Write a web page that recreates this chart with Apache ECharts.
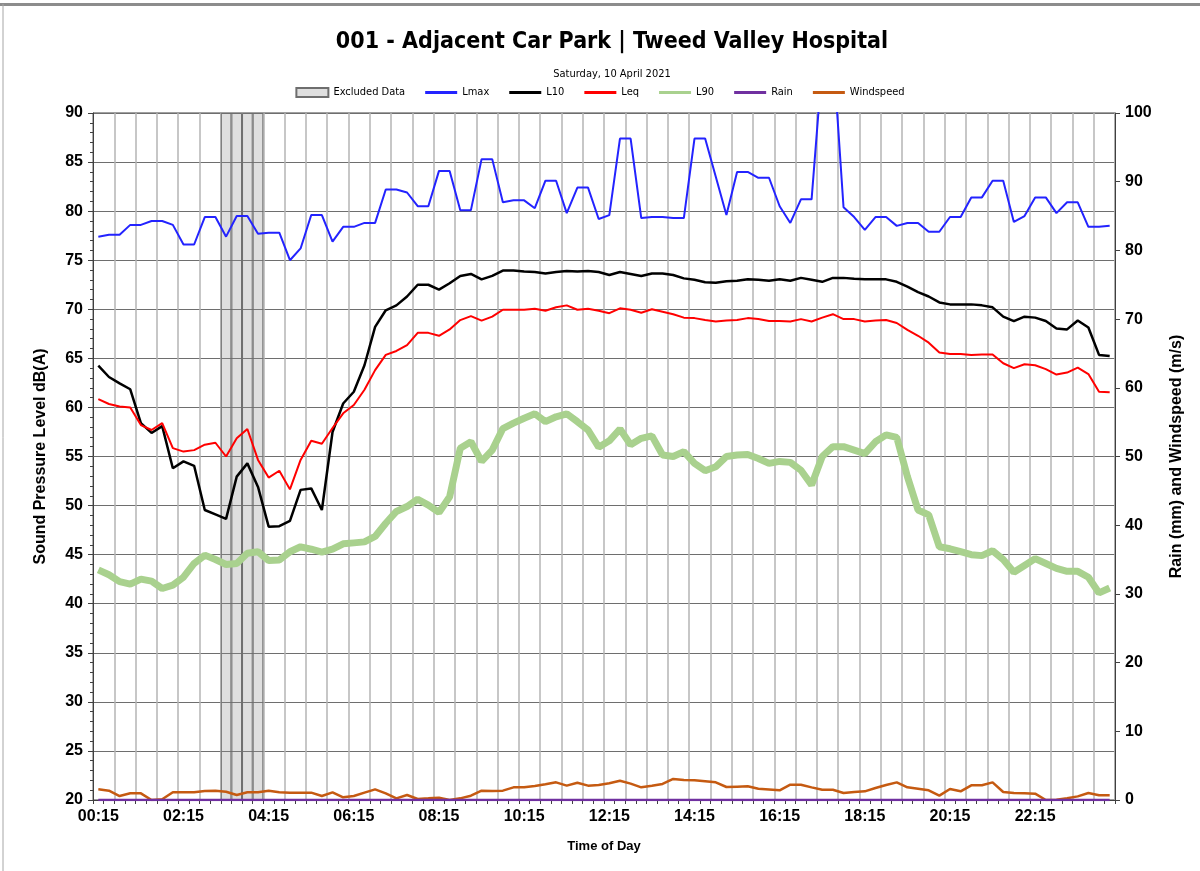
<!DOCTYPE html>
<html>
<head>
<meta charset="utf-8">
<script src="https://cdn.jsdelivr.net/npm/echarts@6/dist/echarts.min.js"></script>
<style>
html,body{margin:0;padding:0;background:#fff;}
#chart{width:1200px;height:871px;}
</style>
</head>
<body>
<div id="chart"></div>
<script>
const timeLabels = ["00:15","00:30","00:45","01:00","01:15","01:30","01:45","02:00","02:15","02:30","02:45","03:00","03:15","03:30","03:45","04:00","04:15","04:30","04:45","05:00","05:15","05:30","05:45","06:00","06:15","06:30","06:45","07:00","07:15","07:30","07:45","08:00","08:15","08:30","08:45","09:00","09:15","09:30","09:45","10:00","10:15","10:30","10:45","11:00","11:15","11:30","11:45","12:00","12:15","12:30","12:45","13:00","13:15","13:30","13:45","14:00","14:15","14:30","14:45","15:00","15:15","15:30","15:45","16:00","16:15","16:30","16:45","17:00","17:15","17:30","17:45","18:00","18:15","18:30","18:45","19:00","19:15","19:30","19:45","20:00","20:15","20:30","20:45","21:00","21:15","21:30","21:45","22:00","22:15","22:30","22:45","23:00","23:15","23:30","23:45","00:00"];

const excluded = [null,null,null,null,null,null,null,null,null,null,null,null,90,90,90,90,null,null,null,null,null,null,null,null,null,null,null,null,null,null,null,null,null,null,null,null,null,null,null,null,null,null,null,null,null,null,null,null,null,null,null,null,null,null,null,null,null,null,null,null,null,null,null,null,null,null,null,null,null,null,null,null,null,null,null,null,null,null,null,null,null,null,null,null,null,null,null,null,null,null,null,null,null,null,null,null];

const lmax = [77.4,77.6,77.6,78.6,78.6,79.0,79.0,78.6,76.6,76.6,
79.4,79.4,77.4,79.5,79.5,77.7,77.8,77.8,75.0,76.2,
79.6,79.6,76.9,78.4,78.4,78.8,78.8,82.2,82.2,81.9,
80.5,80.5,84.1,84.1,80.1,80.1,85.3,85.3,80.9,81.1,
81.1,80.3,83.1,83.1,79.8,82.4,82.4,79.2,79.6,87.4,
87.4,79.3,79.4,79.4,79.3,79.3,87.4,87.4,83.5,79.6,
84.0,84.0,83.4,83.4,80.5,78.8,81.2,81.2,95.0,96.5,
80.4,79.4,78.1,79.4,79.4,78.5,78.8,78.8,77.9,77.9,
79.4,79.4,81.4,81.4,83.1,83.1,78.9,79.5,81.4,81.4,
79.8,80.9,80.9,78.4,78.4,78.5];

const l10 = [64.25,63.1,62.45,61.85,58.4,57.4,58.1,53.8,54.5,54.05,
49.55,49.1,48.65,52.95,54.3,51.9,47.85,47.9,48.45,51.6,
51.75,49.55,57.5,60.4,61.6,64.3,68.2,69.9,70.4,71.3,
72.5,72.5,72.0,72.65,73.4,73.6,73.05,73.4,73.95,73.95,
73.85,73.8,73.65,73.8,73.9,73.85,73.9,73.8,73.5,73.8,
73.6,73.4,73.65,73.65,73.5,73.15,73.0,72.75,72.7,72.85,
72.9,73.05,73.0,72.9,73.05,72.9,73.2,73.0,72.8,73.2,
73.2,73.1,73.05,73.05,73.05,72.8,72.3,71.75,71.3,70.7,
70.5,70.5,70.5,70.4,70.2,69.25,68.8,69.25,69.15,68.8,
68.05,67.95,68.85,68.15,65.35,65.25];

const leq = [60.85,60.35,60.1,60.0,58.2,57.7,58.4,55.85,55.5,55.65,
56.2,56.4,55.0,56.85,57.8,54.65,52.85,53.55,51.65,54.65,
56.6,56.3,57.9,59.4,60.25,61.8,63.8,65.35,65.75,66.35,
67.6,67.6,67.3,67.95,68.9,69.3,68.85,69.25,69.95,69.95,
69.95,70.05,69.85,70.2,70.4,69.95,70.05,69.85,69.6,70.1,
69.95,69.65,70.0,69.75,69.5,69.15,69.1,68.9,68.75,68.85,
68.9,69.1,69.0,68.8,68.8,68.75,69.0,68.75,69.15,69.5,
69.0,69.0,68.75,68.85,68.9,68.6,67.9,67.3,66.6,65.6,
65.45,65.45,65.35,65.4,65.4,64.5,64.0,64.4,64.3,63.9,
63.35,63.55,64.05,63.4,61.6,61.55];

const l90 = [43.45,42.95,42.25,42.0,42.5,42.3,41.55,41.9,42.7,44.1,
44.95,44.5,44.0,44.1,45.15,45.3,44.4,44.45,45.3,45.8,
45.55,45.25,45.55,46.1,46.2,46.3,46.85,48.2,49.4,49.9,
50.65,50.05,49.3,50.9,55.85,56.5,54.5,55.65,57.85,58.4,
58.9,59.35,58.55,59.05,59.35,58.55,57.7,55.95,56.6,57.8,
56.2,56.85,57.1,55.15,55.0,55.5,54.3,53.55,53.95,55.0,
55.15,55.2,54.8,54.3,54.5,54.4,53.6,52.1,55.0,56.0,
56.0,55.65,55.3,56.5,57.2,56.95,52.95,49.55,49.05,45.8,
45.6,45.3,45.0,44.9,45.4,44.5,43.2,43.9,44.6,44.1,
43.6,43.3,43.3,42.7,41.1,41.6];

const rain = [0,0,0,0,0,0,0,0,0,0,0,0,0,0,0,0,0,0,0,0,0,0,0,0,0,0,0,0,0,0,0,0,0,0,0,0,0,0,0,0,0,0,0,0,0,0,0,0,0,0,0,0,0,0,0,0,0,0,0,0,0,0,0,0,0,0,0,0,0,0,0,0,0,0,0,0,0,0,0,0,0,0,0,0,0,0,0,0,0,0,0,0,0,0,0,0];

const windspeed = [1.55,1.36,0.58,0.97,0.97,0,0.1,1.12,1.12,1.12,
1.31,1.36,1.21,0.73,1.12,1.12,1.36,1.12,1.07,1.07,
1.07,0.58,1.12,0.39,0.58,1.07,1.55,0.97,0.24,0.73,
0.15,0.24,0.34,0,0.24,0.63,1.36,1.31,1.36,1.84,
1.84,2.04,2.28,2.57,2.09,2.52,2.09,2.18,2.43,2.8,
2.38,1.84,2.06,2.33,3.06,2.91,2.86,2.72,2.57,1.89,
1.94,1.99,1.65,1.53,1.41,2.23,2.23,1.84,1.5,1.5,
1.02,1.17,1.26,1.75,2.18,2.57,1.84,1.63,1.41,0.63,
1.6,1.26,2.14,2.14,2.57,1.17,1.02,0.97,0.92,0,
0.05,0.27,0.53,1.02,0.68,0.68];

const leftTicks = {min: 20, max: 90, step: 5};
const rightTicks = {min: 0, max: 100, step: 10};

const NARROW = "'Liberation Sans Narrow','DejaVu Sans Condensed','Liberation Sans',sans-serif";
const SANS = "'Liberation Sans','Arial',sans-serif";
const LINE_ICON = 'path://M0,0 H32 V3 H0 Z';

const chart = echarts.init(document.getElementById('chart'), null, {renderer: 'canvas'});

const lineSeries = (name, data, color, width, yAxisIndex, z) => ({
  name, type: 'line', data, yAxisIndex, symbol: 'none', showSymbol: false,
  lineStyle: {color, width}, itemStyle: {color}, z, animation: false
});

chart.setOption({
  animation: false,
  backgroundColor: '#ffffff',
  graphic: [
    {type: 'line', shape: {x1: 0, y1: 4.5, x2: 1200, y2: 4.5}, style: {stroke: '#8c8c8c', lineWidth: 3}, silent: true},
    {type: 'line', shape: {x1: 3, y1: 4, x2: 3, y2: 871}, style: {stroke: '#a6a6a6', lineWidth: 1}, silent: true}
  ],
  title: [
    {text: '001 - Adjacent Car Park | Tweed Valley Hospital', left: 607, textAlign: 'center', top: 26,
     textStyle: {fontFamily: NARROW, fontSize: 23, fontWeight: 'bold', color: '#000'}},
    {text: 'Saturday, 10 April 2021', left: 607, textAlign: 'center', top: 64,
     textStyle: {fontFamily: NARROW, fontSize: 11, fontWeight: 'normal', color: '#000'}}
  ],
  legend: {
    top: 82, left: 'center', itemWidth: 32, itemHeight: 9, itemGap: 20,
    textStyle: {fontFamily: NARROW, fontSize: 11, color: '#000'},
    data: [
      {name: 'Excluded Data', icon: 'rect'},
      {name: 'Lmax', icon: LINE_ICON}, {name: 'L10', icon: LINE_ICON}, {name: 'Leq', icon: LINE_ICON},
      {name: 'L90', icon: LINE_ICON},
      {name: 'Rain', icon: LINE_ICON}, {name: 'Windspeed', icon: LINE_ICON}
    ]
  },
  grid: {left: 93, right: 85, top: 113, bottom: 71, show: true, borderColor: '#404040', borderWidth: 1, backgroundColor: 'transparent', containLabel: false},
  xAxis: {
    type: 'category', data: timeLabels, boundaryGap: true,
    axisLine: {lineStyle: {color: '#404040', width: 1}},
    axisTick: {show: true, interval: 0, length: 4, lineStyle: {color: '#404040'}},
    axisLabel: {interval: 7, fontFamily: SANS, fontWeight: 'bold', fontSize: 16, color: '#000', margin: 9},
    splitLine: {show: true, interval: 1, lineStyle: {color: '#b4b4b4', width: 1.5}},
    name: 'Time of Day', nameLocation: 'middle', nameGap: 40,
    nameTextStyle: {fontFamily: SANS, fontWeight: 'bold', fontSize: 13, color: '#000'}
  },
  yAxis: [
    {
      type: 'value', position: 'left', min: leftTicks.min, max: leftTicks.max, interval: leftTicks.step,
      name: 'Sound Pressure Level dB(A)', nameLocation: 'middle', nameGap: 44,
      nameTextStyle: {fontFamily: SANS, fontWeight: 'bold', fontSize: 16, color: '#000'},
      axisLine: {show: true, lineStyle: {color: '#404040'}},
      axisTick: {show: true, length: 5, lineStyle: {color: '#404040'}},
      minorTick: {show: true, splitNumber: 5, length: 3, lineStyle: {color: '#404040'}},
      axisLabel: {fontFamily: SANS, fontWeight: 'bold', fontSize: 16, color: '#000', margin: 10},
      splitLine: {show: true, lineStyle: {color: '#6e6e6e', width: 1}}
    },
    {
      type: 'value', position: 'right', min: rightTicks.min, max: rightTicks.max, interval: rightTicks.step,
      name: 'Rain (mm) and Windspeed (m/s)', nameLocation: 'middle', nameGap: 54,
      nameTextStyle: {fontFamily: SANS, fontWeight: 'bold', fontSize: 16, color: '#000'},
      axisLine: {show: true, lineStyle: {color: '#404040'}},
      axisTick: {show: true, length: 5, lineStyle: {color: '#404040'}},
      axisLabel: {fontFamily: SANS, fontWeight: 'bold', fontSize: 16, color: '#000', margin: 10},
      splitLine: {show: false}
    }
  ],
  series: [
    {name: 'Excluded Data', type: 'bar', data: excluded, yAxisIndex: 0, barWidth: '100%', barGap: '0%', barCategoryGap: '0%',
     itemStyle: {color: 'rgba(150,150,150,0.3)', borderColor: '#6e6e6e', borderWidth: 1}, z: 1, silent: true},
    lineSeries('Lmax', lmax, '#2323ff', 2, 0, 3),
    lineSeries('L10', l10, '#000000', 2.5, 0, 4),
    lineSeries('Leq', leq, '#ff0000', 2, 0, 5),
    lineSeries('L90', l90, '#a9d18e', 7, 0, 2),
    lineSeries('Rain', rain, '#7030a0', 2.5, 1, 6),
    lineSeries('Windspeed', windspeed, '#c55a11', 2.5, 1, 5)
  ]
});
</script>
</body>
</html>
